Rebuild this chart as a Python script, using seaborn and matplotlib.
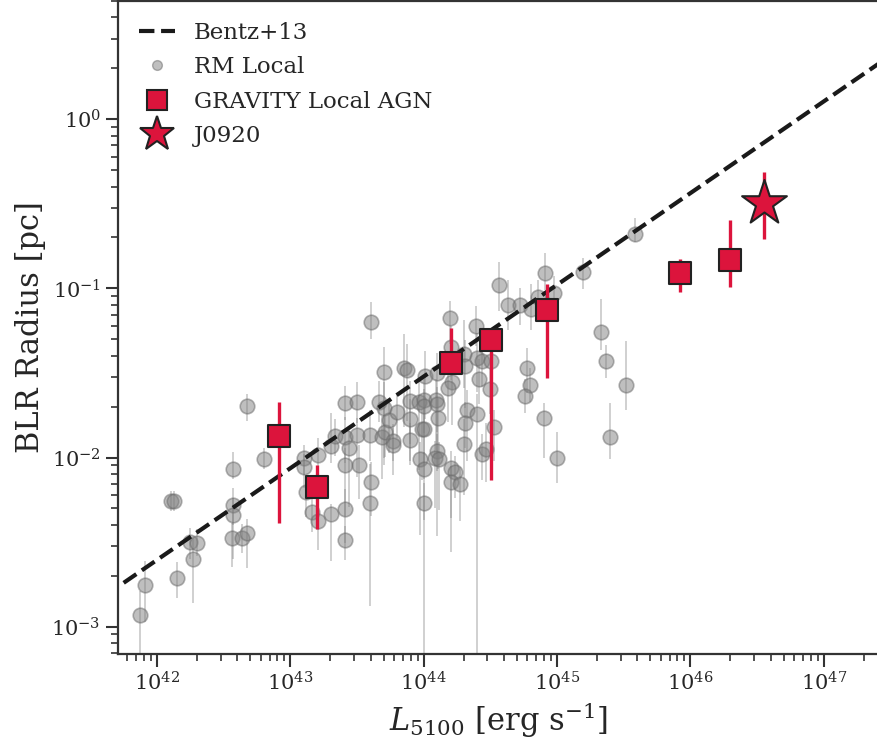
import numpy as np
import pandas as pd
import seaborn as sns
import matplotlib.pyplot as plt
from matplotlib.lines import Line2D

# RM local sample: log10 L5100 [erg/s], log10 R [pc], lower / upper errors in dex
rm_logL = [42.675, 41.869, 41.912, 42.150, 42.105, 42.130, 42.250, 42.300, 42.270, 42.570,
           42.570, 42.570, 42.563, 42.638, 42.675, 42.800, 43.105, 43.105, 43.120, 43.163,
           43.205, 43.208, 43.305, 43.305, 43.338, 43.407, 43.407, 43.407, 43.407, 43.407,
           43.437, 43.500, 43.503, 43.512, 43.600, 43.608, 43.595, 43.662, 43.700, 43.688,
           43.713, 43.737, 43.770, 43.773, 43.800, 43.700, 43.605, 43.855, 43.875, 43.900,
           43.900, 43.900, 43.962, 44.000, 44.000, 43.988, 44.005, 43.975, 44.005, 44.005,
           44.008, 44.101, 44.095, 44.101, 44.105, 44.101, 44.088, 44.113, 44.195, 44.206,
           44.213, 44.180, 44.206, 44.238, 44.206, 44.275, 44.300, 44.300, 44.308, 44.326,
           44.313, 44.393, 44.401, 44.438, 44.413, 44.401, 44.438, 44.470, 44.506, 44.500,
           44.530, 44.563, 44.633, 44.725, 44.808, 44.855, 44.913, 44.975, 44.776, 44.800,
           44.763, 44.900, 45.001, 45.196, 45.331, 45.371, 45.521, 45.401, 45.588]
rm_logR = [-1.696, -2.928, -2.751, -2.710, -2.255, -2.255, -2.498, -2.504, -2.598, -2.069,
           -2.281, -2.339, -2.475, -2.475, -2.445, -2.006, -2.004, -2.057, -2.202, -2.320,
           -2.375, -1.985, -1.934, -2.334, -1.873, -1.675, -1.881, -2.045, -2.304, -2.485,
           -1.945, -1.673, -1.865, -2.044, -1.869, -2.144, -2.269, -1.669, -1.704, -1.876,
           -1.849, -1.775, -1.902, -1.925, -1.732, -1.496, -1.200, -1.471, -1.481, -1.667,
           -1.771, -1.896, -1.671, -1.657, -1.696, -1.834, -1.829, -2.010, -2.069, -2.269,
           -1.520, -1.500, -1.657, -1.681, -1.765, -1.961, -2.000, -2.010, -1.176, -1.344,
           -1.555, -1.588, -2.059, -2.088, -2.147, -2.157, -1.922, -1.386, -1.457, -1.720,
           -1.794, -1.222, -1.412, -1.432, -1.535, -1.745, -1.981, -1.947, -1.432, -1.592,
           -1.818, -0.981, -1.098, -1.098, -1.124, -1.049, -0.908, -1.029, -1.471, -1.569,
           -1.634, -1.765, -2.000, -0.902, -1.255, -1.432, -1.569, -1.876, -0.676]
rm_err_lo = [0.09, 1.00, 0.22, 0.12, 0.06, 0.06, 0.10, 0.08, 0.26, 0.06,
             0.12, 0.26, 0.17, 0.09, 0.21, 0.06, 0.10, 0.12, 0.15, 0.12,
             0.17, 0.10, 0.10, 0.28, 0.12, 0.10, 0.15, 0.30, 0.20, 0.12,
             0.35, 0.12, 0.25, 0.20, 0.15, 0.20, 0.61, 0.12, 0.30, 0.25,
             0.15, 0.20, 0.12, 0.18, 0.15, 0.55, 0.10, 0.35, 0.30, 0.25,
             0.25, 0.15, 0.40, 0.20, 0.35, 0.30, 0.30, 0.45, 0.30, 1.50,
             0.25, 0.35, 0.30, 0.40, 0.30, 0.50, 0.30, 0.30, 0.15, 0.20,
             0.25, 0.20, 0.30, 0.15, 0.41, 0.22, 0.30, 0.20, 0.25, 0.30,
             0.15, 0.12, 0.20, 0.15, 0.15, 1.50, 0.15, 0.20, 0.12, 0.15,
             0.20, 0.15, 0.15, 0.12, 0.12, 0.15, 0.10, 0.12, 0.15, 0.10,
             0.10, 0.24, 0.15, 0.10, 0.11, 0.10, 0.15, 0.13, 0.05]
rm_err_hi = [0.07, 0.14, 0.14, 0.09, 0.06, 0.06, 0.08, 0.08, 0.12, 0.10,
             0.10, 0.10, 0.09, 0.08, 0.08, 0.06, 0.08, 0.08, 0.10, 0.10,
             0.12, 0.10, 0.20, 0.06, 0.10, 0.10, 0.12, 0.10, 0.12, 0.08,
             0.10, 0.12, 0.10, 0.12, 0.15, 0.12, 0.23, 0.12, 0.15, 0.12,
             0.10, 0.12, 0.10, 0.10, 0.10, 0.15, 0.12, 0.20, 0.15, 0.12,
             0.12, 0.10, 0.15, 0.12, 0.10, 0.12, 0.12, 0.10, 0.10, 0.12,
             0.15, 0.12, 0.12, 0.10, 0.12, 0.10, 0.10, 0.10, 0.10, 0.12,
             0.12, 0.12, 0.10, 0.10, 0.10, 0.10, 0.15, 0.20, 0.15, 0.12,
             0.12, 0.12, 0.15, 0.10, 0.12, 0.12, 0.12, 0.15, 0.12, 0.12,
             0.10, 0.14, 0.15, 0.10, 0.15, 0.10, 0.12, 0.10, 0.12, 0.10,
             0.10, 0.09, 0.15, 0.08, 0.19, 0.10, 0.26, 0.20, 0.09]

# GRAVITY local AGN
grav_logL = [42.917, 43.203, 44.208, 44.508, 44.928, 45.926, 46.301]
grav_logR = [-1.875, -2.175, -1.439, -1.304, -1.128, -0.910, -0.834]
grav_logR_lo = [-2.386, -2.422, -1.492, -2.134, -1.528, -1.022, -0.993]
grav_logR_hi = [-1.669, -2.045, -1.233, -1.245, -0.971, -0.828, -0.593]

# J0920
j_logL = [46.556]
j_logR = [-0.498]
j_logR_lo = [-0.710]
j_logR_hi = [-0.310]

# Bentz+13 R-L relation (converted to pc)
bentz_K = -1.521
bentz_alpha = 0.542

red = '#DC143C'

sns.set_theme(style='ticks')
plt.rcParams['font.family'] = ['DejaVu Serif']
plt.rcParams['mathtext.fontset'] = 'dejavuserif'
plt.rcParams['axes.edgecolor'] = '#333333'
plt.rcParams['axes.linewidth'] = 1.6

rm = pd.DataFrame({'L': 10 ** np.array(rm_logL), 'R': 10 ** np.array(rm_logR)})
rm['lo'] = rm['R'] - 10 ** (np.array(rm_logR) - np.array(rm_err_lo))
rm['hi'] = 10 ** (np.array(rm_logR) + np.array(rm_err_hi)) - rm['R']

grav = pd.DataFrame({'L': 10 ** np.array(grav_logL), 'R': 10 ** np.array(grav_logR)})
grav['lo'] = grav['R'] - 10 ** np.array(grav_logR_lo)
grav['hi'] = 10 ** np.array(grav_logR_hi) - grav['R']

j0920 = pd.DataFrame({'L': 10 ** np.array(j_logL), 'R': 10 ** np.array(j_logR)})
j0920['lo'] = j0920['R'] - 10 ** np.array(j_logR_lo)
j0920['hi'] = 10 ** np.array(j_logR_hi) - j0920['R']

lgrid = np.linspace(41.75, 47.6, 50)
bentz = pd.DataFrame({'L': 10 ** lgrid, 'R': 10 ** (bentz_K + bentz_alpha * (lgrid - 44))})

fig = plt.figure(figsize=(8.78, 7.42), dpi=100)
ax = fig.add_axes([118 / 878, 88 / 742, 761 / 878, 653 / 742])

ax.errorbar(rm['L'], rm['R'], yerr=[rm['lo'], rm['hi']], fmt='none',
            ecolor='gray', alpha=0.4, elinewidth=1.3, zorder=1)
sns.scatterplot(data=rm, x='L', y='R', ax=ax, color='gray', alpha=0.5,
                edgecolor='dimgray', linewidth=1.2, s=110, zorder=2, legend=False)

sns.lineplot(data=bentz, x='L', y='R', ax=ax, color='#1a1a1a', lw=3,
             linestyle='--', zorder=3, legend=False)

ax.errorbar(grav['L'], grav['R'], yerr=[grav['lo'], grav['hi']], fmt='none',
            ecolor=red, elinewidth=2.4, zorder=4)
sns.scatterplot(data=grav, x='L', y='R', ax=ax, marker='s', color=red,
                edgecolor='#222222', linewidth=1.5, s=235, zorder=5, legend=False)

ax.errorbar(j0920['L'], j0920['R'], yerr=[j0920['lo'], j0920['hi']], fmt='none',
            ecolor=red, elinewidth=2.4, zorder=4)
sns.scatterplot(data=j0920, x='L', y='R', ax=ax, marker='*', color=red,
                edgecolor='#222222', linewidth=1.5, s=1150, zorder=6, legend=False)

ax.set_xscale('log')
ax.set_yscale('log')
ax.set_xlim(5.1e41, 2.6e47)
ax.set_ylim(6.9e-4, 5.0)

ax.set_xlabel(r'$L_{5100}$ [erg s$^{-1}$]', fontsize=22)
ax.set_ylabel('BLR Radius [pc]', fontsize=22)
ax.tick_params(axis='both', which='major', labelsize=15, length=9, width=1.5, color='#333333')
ax.tick_params(axis='both', which='minor', length=5, width=1.2, color='#333333')

handles = [
    Line2D([], [], color='#1a1a1a', lw=3, linestyle='--'),
    Line2D([], [], marker='o', color='gray', alpha=0.5, markeredgecolor='dimgray',
           linestyle='none', markersize=7),
    Line2D([], [], marker='s', color=red, markeredgecolor='#222222', markeredgewidth=1.5,
           linestyle='none', markersize=14),
    Line2D([], [], marker='*', color=red, markeredgecolor='#222222', markeredgewidth=1.5,
           linestyle='none', markersize=26),
]
labels = ['Bentz+13', 'RM Local', 'GRAVITY Local AGN', 'J0920']
ax.legend(handles, labels, loc='upper left', fontsize=16.5, frameon=False,
          handlelength=1.6, labelspacing=0.55, borderaxespad=0.5)

fig.savefig('out.png', dpi=100)
